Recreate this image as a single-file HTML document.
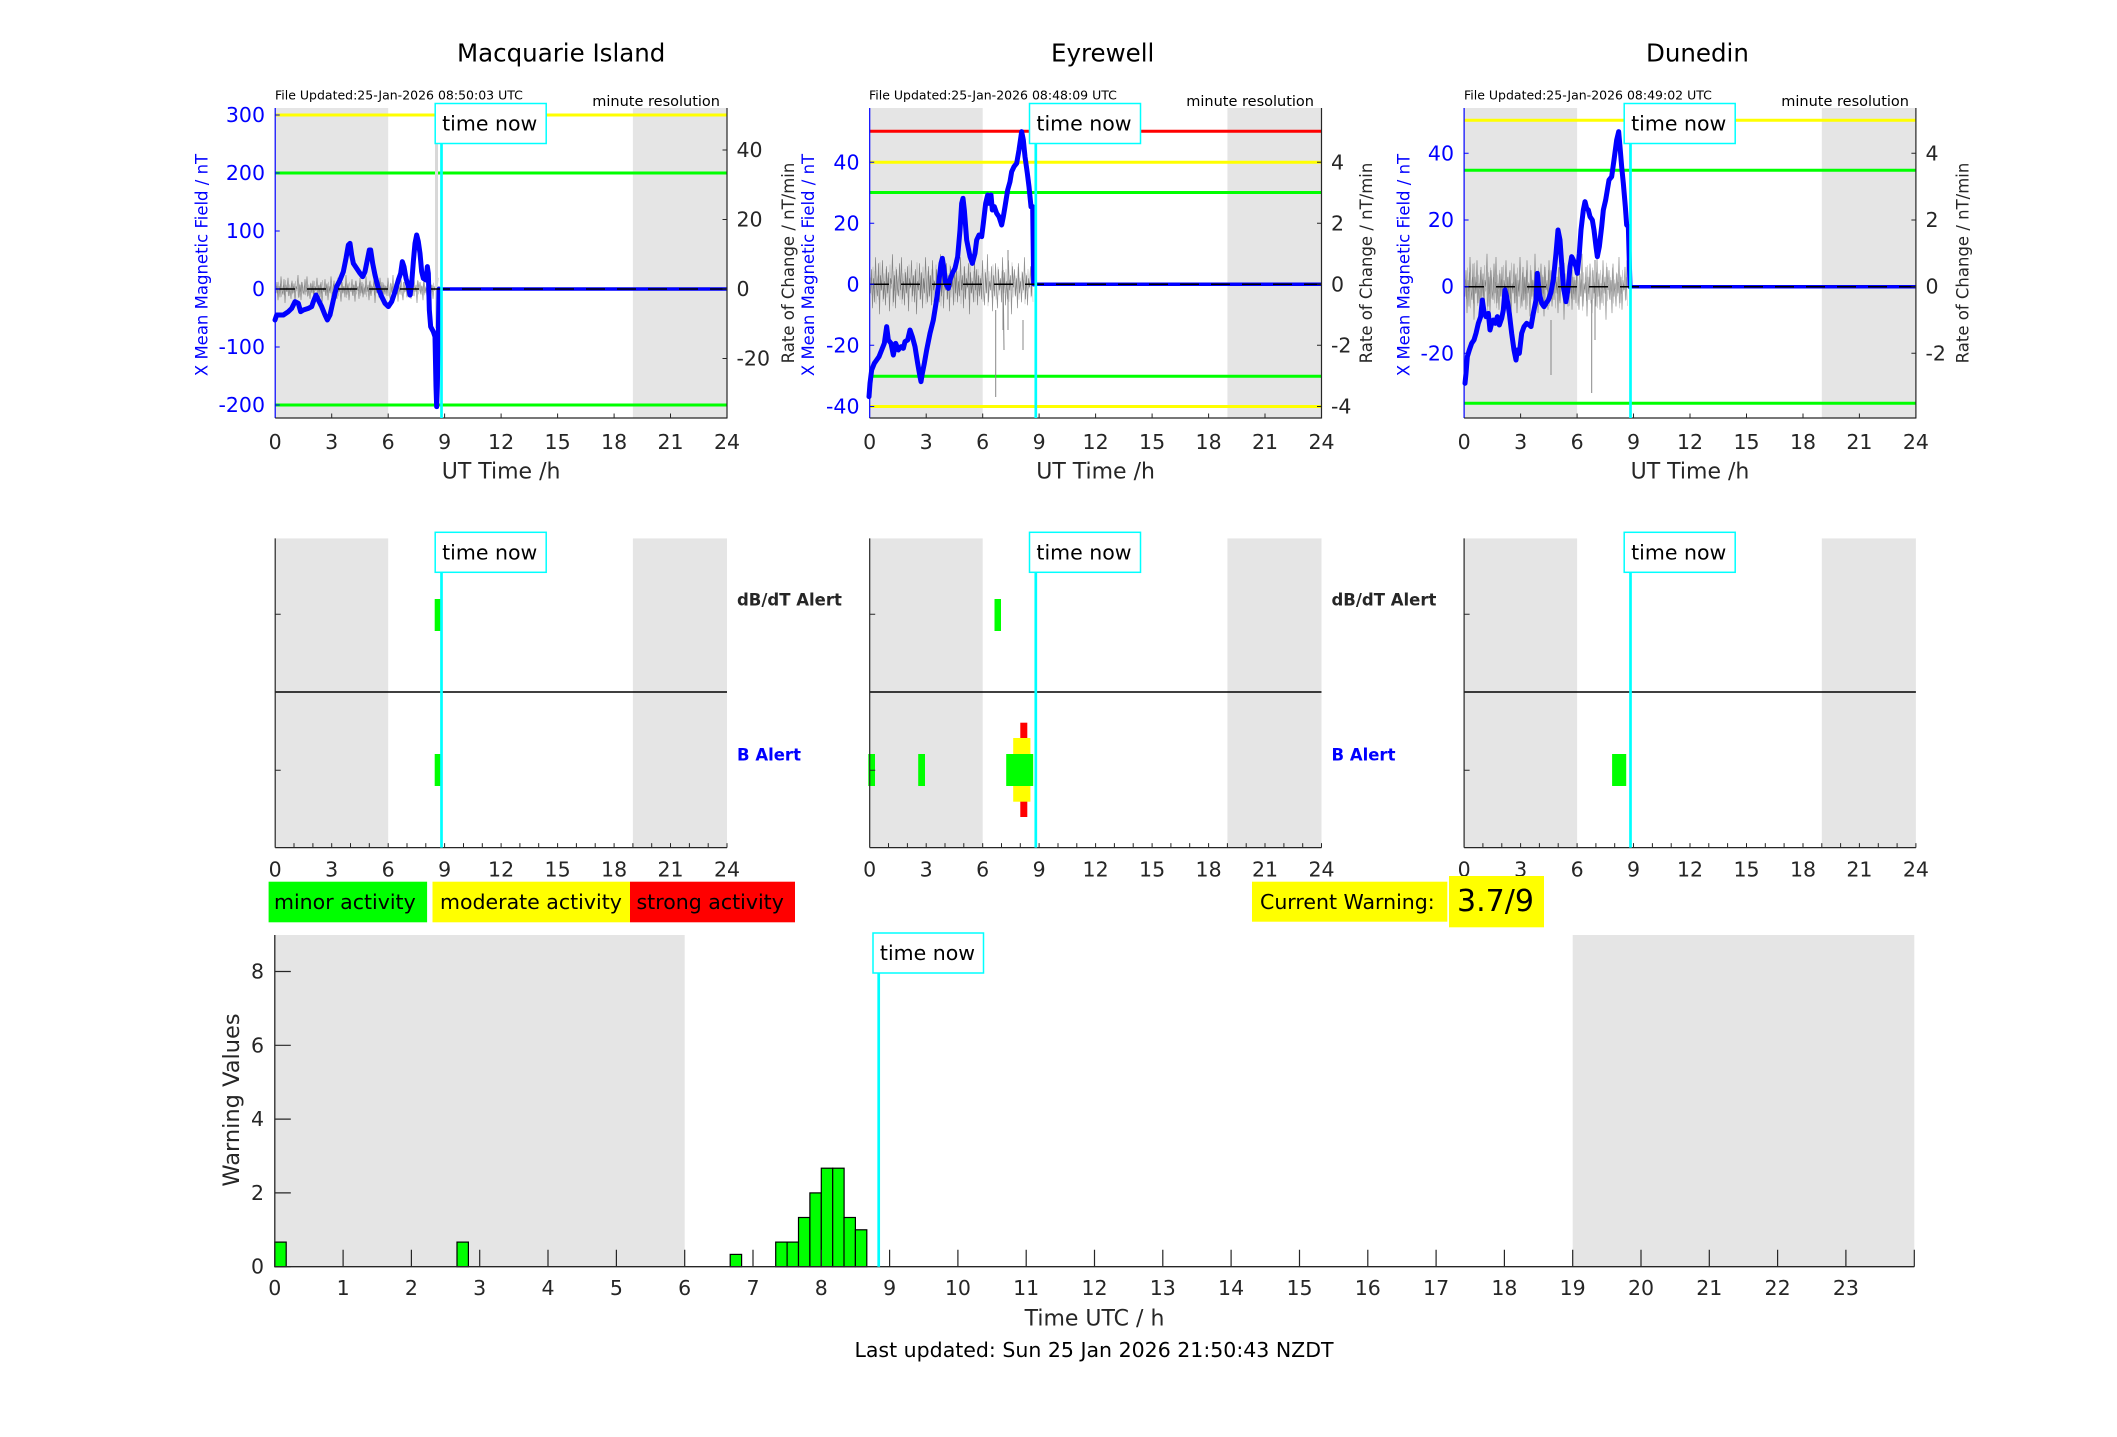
<!DOCTYPE html>
<html><head><meta charset="utf-8"><style>
html,body{margin:0;padding:0;background:#fff;}
svg{display:block;}
text{font-family:"DejaVu Sans","Liberation Sans",sans-serif;}
</style></head><body>
<svg width="2117" height="1437" viewBox="0 0 2117 1437" xmlns="http://www.w3.org/2000/svg">
<defs>
<polyline id="nz" fill="none" stroke="#3a3a3a" stroke-width="0.7" vector-effect="non-scaling-stroke" points="0,3 1,-5 2,8 3,-2 4,6 5,-9 6,1 7,4 8,-7 9,10 10,-3 11,2 12,-8 13,5 14,-1 15,7 16,-6 17,3 18,-4 19,9 20,-2 21,0 22,-10 23,6 24,-3 25,8 26,-5 27,1 28,4 29,-7 30,2 31,-9 32,5 33,-1 34,7 35,-4 36,3 37,-6 38,9 39,-2 40,1 41,-8 42,4 43,-3 44,6 45,-5 46,10 47,-1 48,2 49,-7 50,5 51,-4 52,8 53,-2 54,3 55,-9 56,1 57,6 58,-6 59,4 60,-3 61,7 62,-8 63,2 64,-1 65,9 66,-5 67,3 68,-2 69,6 70,-10 71,4 72,-4 73,8 74,-1 75,2 76,-7 77,5 78,-3 79,9 80,-6 81,1 82,-2 83,7 84,-8 85,3 86,-5 87,6 88,-1 89,4 90,-9 91,2 92,-3 93,8 94,-6 95,5 96,-2 97,1 98,-7 99,10 100,-4 101,3 102,-1 103,6 104,-8 105,2 106,-5 107,7 108,-3 109,4 110,-2 111,5 112,-8 113,1 114,7 115,-4 116,3 117,-10 118,6 119,-1 120,2 121,-6 122,9 123,-3 124,4 125,-7 126,1 127,8 128,-5 129,2 130,-2 131,6 132,-9 133,3 134,-4 135,7 136,-1 137,5 138,-8 139,2 140,-3 141,10 142,-6 143,1 144,-5 145,4 146,-2 147,8 148,-7 149,3 150,-1 151,6 152,-4 153,2 154,-9 155,5 156,-3 157,7 158,-2 159,1 160,-6 161,4 162,-8"/>
</defs>

<!-- Titles -->
<text x="457" y="53" font-size="24.5" dominant-baseline="central" fill="#000">Macquarie Island</text>
<text x="1051" y="53" font-size="24.5" dominant-baseline="central" fill="#000">Eyrewell</text>
<text x="1646" y="53" font-size="24.5" dominant-baseline="central" fill="#000">Dunedin</text>

<g font-size="12.5" fill="#000" dominant-baseline="central">
<text x="275" y="95">File Updated:25-Jan-2026 08:50:03 UTC</text>
<text x="869" y="95">File Updated:25-Jan-2026 08:48:09 UTC</text>
<text x="1464" y="95">File Updated:25-Jan-2026 08:49:02 UTC</text>
</g>
<g font-size="14.5" fill="#000" dominant-baseline="central" text-anchor="end">
<text x="720" y="102">minute resolution</text>
<text x="1314" y="102">minute resolution</text>
<text x="1909" y="102">minute resolution</text>
</g>

<g fill="#e5e5e5">
<rect x="275.2" y="108" width="113" height="310"/><rect x="632.9" y="108" width="94.1" height="310"/>
<rect x="869.7" y="108" width="113" height="310"/><rect x="1227.4" y="108" width="94.1" height="310"/>
<rect x="1464.1" y="108" width="113" height="310"/><rect x="1821.8" y="108" width="94.1" height="310"/>
</g>

<g stroke-width="3">
<line x1="275.2" x2="727" y1="115" y2="115" stroke="#ffff00"/>
<line x1="275.2" x2="727" y1="173" y2="173" stroke="#00ff00"/>
<line x1="275.2" x2="727" y1="405" y2="405" stroke="#00ff00"/>
<line x1="869.7" x2="1321.5" y1="131.3" y2="131.3" stroke="#ff0000"/>
<line x1="869.7" x2="1321.5" y1="162.3" y2="162.3" stroke="#ffff00"/>
<line x1="869.7" x2="1321.5" y1="192.5" y2="192.5" stroke="#00ff00"/>
<line x1="869.7" x2="1321.5" y1="376.3" y2="376.3" stroke="#00ff00"/>
<line x1="869.7" x2="1321.5" y1="406.5" y2="406.5" stroke="#ffff00"/>
<line x1="1464.1" x2="1915.9" y1="120.3" y2="120.3" stroke="#ffff00"/>
<line x1="1464.1" x2="1915.9" y1="170.3" y2="170.3" stroke="#00ff00"/>
<line x1="1464.1" x2="1915.9" y1="403.3" y2="403.3" stroke="#00ff00"/>
</g>

<g opacity="0.55">
<use href="#nz" transform="translate(276,289) scale(1,1.4)"/>
<use href="#nz" transform="translate(870.5,284.3) scale(1,3.0)"/>
<use href="#nz" transform="translate(1465,286.7) scale(1,3.3)"/>
</g>
<g opacity="0.25">
<use href="#nz" transform="translate(276.5,289) scale(1,-0.9)"/>
<use href="#nz" transform="translate(871,284.3) scale(1,-2.2)"/>
<use href="#nz" transform="translate(1465.5,286.7) scale(1,-2.4)"/>
</g>
<g stroke="#888" stroke-width="1" fill="none">
<rect x="435" y="108" width="3" height="220" fill="#d8d8d8" stroke="none"/>
<polyline points="995.7,310 995.7,397"/>
<polyline points="1008,250 1008,330"/>
<polyline points="1003,330 1003,270 1004,350"/>
<polyline points="1591.7,300 1591.7,393"/>
<polyline points="1595,260 1595,340"/>
<polyline points="1551,320 1551,375"/>
<polyline points="1023,320 1023,350"/>
</g>

<g fill="none" stroke="#0000ff" stroke-linejoin="round" stroke-linecap="round">
<polyline transform="translate(270,200) scale(0.333333)" vector-effect="non-scaling-stroke" stroke-width="5" points="15,360 20,345 40,345 55,335 65,325 75,305 85,310 92,335 100,330 115,325 125,320 130,305 138,285 145,300 155,320 165,345 172,360 180,345 190,300 200,260 210,240 220,215 228,175 235,135 240,130 245,165 250,190 260,205 270,220 278,230 285,215 292,180 298,150 302,150 308,190 315,225 325,265 335,290 345,310 355,320 365,305 375,275 385,240 392,220 397,185 402,200 408,235 415,260 420,285 425,250 430,185 435,130 440,105 445,125 450,160 455,215 460,235 468,240 472,200 475,220 478,330 482,380 490,395 495,410 498,560 500,620 502,560 505,400 507,267"/>
<polyline transform="translate(865,110) scale(0.333333)" vector-effect="non-scaling-stroke" stroke-width="5" points="12,860 15,820 20,780 28,760 35,750 42,740 50,720 58,700 65,650 70,690 78,700 85,735 92,700 100,720 108,710 115,715 120,695 128,690 135,660 142,680 150,710 158,760 165,800 168,815 172,790 178,760 185,720 195,670 205,630 213,580 220,530 228,460 232,445 236,470 242,520 250,535 255,510 262,490 270,475 278,440 285,360 290,280 294,265 298,300 305,390 315,440 322,460 330,430 335,390 342,375 350,380 355,340 362,280 368,255 372,280 378,255 382,300 388,290 395,310 402,320 410,345 415,320 420,290 428,240 435,215 440,185 447,170 455,160 462,120 470,65 475,90 480,140 487,190 492,230 498,290 503,290 506,522"/>
<polyline transform="translate(1460,120) scale(0.333333)" vector-effect="non-scaling-stroke" stroke-width="5" points="15,790 18,760 22,710 28,690 35,670 42,660 48,640 55,610 62,590 67,540 72,575 78,590 85,580 90,630 95,610 100,600 106,610 112,590 118,615 125,595 130,570 135,510 140,530 148,580 155,640 162,690 168,720 172,690 178,700 185,640 192,620 200,610 208,615 213,620 220,580 228,540 232,460 238,520 245,550 252,560 258,550 265,540 272,520 280,480 288,400 294,330 300,360 305,430 310,500 318,545 325,500 330,440 335,410 340,420 348,440 352,460 358,400 363,330 370,270 375,245 380,265 385,270 390,290 397,300 402,330 408,380 412,410 418,380 425,320 430,270 437,240 442,210 447,180 455,170 462,120 470,60 476,35 480,80 485,140 490,190 496,260 500,315 505,320 510,500"/>
</g>
<g stroke="#0000ff" stroke-width="3.5">
<line x1="439" x2="727" y1="289" y2="289"/>
<line x1="1033.5" x2="1321.5" y1="284.3" y2="284.3"/>
<line x1="1630" x2="1915.9" y1="286.7" y2="286.7"/>
</g>
<g stroke="#000" stroke-width="1.5" stroke-dasharray="19 12">
<line x1="276" x2="727" y1="289" y2="289"/>
<line x1="870" x2="1321.5" y1="284.3" y2="284.3"/>
<line x1="1465" x2="1915.9" y1="286.7" y2="286.7"/>
</g>

<g stroke-width="1.2">
<line x1="275.2" x2="275.2" y1="108" y2="418" stroke="#0000ff"/>
<line x1="869.7" x2="869.7" y1="108" y2="418" stroke="#0000ff"/>
<line x1="1464.1" x2="1464.1" y1="108" y2="418" stroke="#0000ff"/>
<line x1="727" x2="727" y1="108" y2="418.5" stroke="#262626"/>
<line x1="1321.5" x2="1321.5" y1="108" y2="418.5" stroke="#262626"/>
<line x1="1915.9" x2="1915.9" y1="108" y2="418.5" stroke="#262626"/>
<line x1="275.2" x2="727" y1="418" y2="418" stroke="#262626"/>
<line x1="869.7" x2="1321.5" y1="418" y2="418" stroke="#262626"/>
<line x1="1464.1" x2="1915.9" y1="418" y2="418" stroke="#262626"/>
</g>
<g stroke="#262626" stroke-width="1">
<path d="M331.7 418v-4.5M388.2 418v-4.5M444.6 418v-4.5M501.1 418v-4.5M557.6 418v-4.5M614.1 418v-4.5M670.5 418v-4.5"/>
<path d="M926.2 418v-4.5M982.7 418v-4.5M1039.1 418v-4.5M1095.6 418v-4.5M1152.1 418v-4.5M1208.6 418v-4.5M1265 418v-4.5"/>
<path d="M1520.6 418v-4.5M1577.1 418v-4.5M1633.5 418v-4.5M1690 418v-4.5M1746.5 418v-4.5M1803 418v-4.5M1859.4 418v-4.5"/>
<path d="M727 150h-4.5M727 219.5h-4.5M727 289h-4.5M727 358.5h-4.5"/>
<path d="M1321.5 162.3h-4.5M1321.5 223.3h-4.5M1321.5 284.3h-4.5M1321.5 345.3h-4.5M1321.5 406.5h-4.5"/>
<path d="M1915.9 153.3h-4.5M1915.9 220h-4.5M1915.9 286.7h-4.5M1915.9 353.3h-4.5"/>
</g>
<g stroke="#0000ff" stroke-width="1">
<path d="M275.2 115h4.5M275.2 173h4.5M275.2 231h4.5M275.2 289h4.5M275.2 347h4.5M275.2 405h4.5"/>
<path d="M869.7 162.3h4.5M869.7 223.3h4.5M869.7 284.3h4.5M869.7 345.3h4.5M869.7 406.5h4.5"/>
<path d="M1464.1 153.3h4.5M1464.1 220h4.5M1464.1 286.7h4.5M1464.1 353.3h4.5"/>
</g>

<g font-size="20.5" fill="#0000ff" text-anchor="end" dominant-baseline="central">
<text x="265" y="115">300</text><text x="265" y="173">200</text><text x="265" y="231">100</text><text x="265" y="289">0</text><text x="265" y="347">-100</text><text x="265" y="405">-200</text>
<text x="859.5" y="162.3">40</text><text x="859.5" y="223.3">20</text><text x="859.5" y="284.3">0</text><text x="859.5" y="345.3">-20</text><text x="859.5" y="406.5">-40</text>
<text x="1454" y="153.3">40</text><text x="1454" y="220">20</text><text x="1454" y="286.7">0</text><text x="1454" y="353.3">-20</text>
</g>
<g font-size="20.5" fill="#262626" dominant-baseline="central">
<text x="736.5" y="150">40</text><text x="736.5" y="219.5">20</text><text x="736.5" y="289">0</text><text x="736.5" y="358.5">-20</text>
<text x="1331" y="162.3">4</text><text x="1331" y="223.3">2</text><text x="1331" y="284.3">0</text><text x="1331" y="345.3">-2</text><text x="1331" y="406.5">-4</text>
<text x="1925.5" y="153.3">4</text><text x="1925.5" y="220">2</text><text x="1925.5" y="286.7">0</text><text x="1925.5" y="353.3">-2</text>
</g>
<g font-size="20.5" fill="#262626" text-anchor="middle" dominant-baseline="central">
<text x="275.2" y="442">0</text><text x="331.7" y="442">3</text><text x="388.2" y="442">6</text><text x="444.6" y="442">9</text><text x="501.1" y="442">12</text><text x="557.6" y="442">15</text><text x="614.1" y="442">18</text><text x="670.5" y="442">21</text><text x="727" y="442">24</text>
<text x="869.7" y="442">0</text><text x="926.2" y="442">3</text><text x="982.7" y="442">6</text><text x="1039.1" y="442">9</text><text x="1095.6" y="442">12</text><text x="1152.1" y="442">15</text><text x="1208.6" y="442">18</text><text x="1265" y="442">21</text><text x="1321.5" y="442">24</text>
<text x="1464.1" y="442">0</text><text x="1520.6" y="442">3</text><text x="1577.1" y="442">6</text><text x="1633.5" y="442">9</text><text x="1690" y="442">12</text><text x="1746.5" y="442">15</text><text x="1803" y="442">18</text><text x="1859.4" y="442">21</text><text x="1915.9" y="442">24</text>
</g>
<g font-size="22" fill="#262626" text-anchor="middle" dominant-baseline="central">
<text x="501.1" y="472">UT Time /h</text>
<text x="1095.6" y="472">UT Time /h</text>
<text x="1690" y="472">UT Time /h</text>
</g>
<g font-size="16.5" text-anchor="middle" dominant-baseline="central">
<text transform="translate(201.8,265) rotate(-90)" fill="#0000ff">X Mean Magnetic Field / nT</text>
<text transform="translate(808.7,265) rotate(-90)" fill="#0000ff">X Mean Magnetic Field / nT</text>
<text transform="translate(1404.1,265) rotate(-90)" fill="#0000ff">X Mean Magnetic Field / nT</text>
<text transform="translate(788.4,263) rotate(-90)" fill="#262626">Rate of Change / nT/min</text>
<text transform="translate(1366.5,263) rotate(-90)" fill="#262626">Rate of Change / nT/min</text>
<text transform="translate(1963,263) rotate(-90)" fill="#262626">Rate of Change / nT/min</text>
</g>

<!-- MIDDLE ROW -->
<g fill="#e5e5e5">
<rect x="275.2" y="538.4" width="113" height="309.2"/><rect x="632.9" y="538.4" width="94.1" height="309.2"/>
<rect x="869.7" y="538.4" width="113" height="309.2"/><rect x="1227.4" y="538.4" width="94.1" height="309.2"/>
<rect x="1464.1" y="538.4" width="113" height="309.2"/><rect x="1821.8" y="538.4" width="94.1" height="309.2"/>
</g>
<g fill="#00ff00">
<rect x="434.7" y="599" width="6.5" height="32"/>
<rect x="434.7" y="754" width="6.5" height="32"/>
<rect x="994.5" y="599" width="6.5" height="32"/>
<rect x="868.3" y="754" width="6.7" height="32"/>
<rect x="918.2" y="754" width="6.8" height="32"/>
<rect x="1612.1" y="754" width="14.1" height="32"/>
</g>
<rect x="1020.3" y="722.7" width="7" height="94.3" fill="#ff0000"/>
<rect x="1013.2" y="738" width="17.2" height="63.7" fill="#ffff00"/>
<rect x="1006.2" y="754" width="27" height="32" fill="#00ff00"/>

<g stroke="#000" stroke-width="1.5">
<line x1="275.2" x2="727" y1="692" y2="692"/>
<line x1="869.7" x2="1321.5" y1="692" y2="692"/>
<line x1="1464.1" x2="1915.9" y1="692" y2="692"/>
</g>
<g stroke="#262626" stroke-width="1.2">
<line x1="275.2" x2="275.2" y1="538.4" y2="847.6"/>
<line x1="869.7" x2="869.7" y1="538.4" y2="847.6"/>
<line x1="1464.1" x2="1464.1" y1="538.4" y2="847.6"/>
<line x1="275.2" x2="727" y1="847.6" y2="847.6"/>
<line x1="869.7" x2="1321.5" y1="847.6" y2="847.6"/>
<line x1="1464.1" x2="1915.9" y1="847.6" y2="847.6"/>
</g>
<g stroke="#262626" stroke-width="1">
<path d="M275.2 614.3h5.5M275.2 770.3h5.5M869.7 614.3h5.5M869.7 770.3h5.5M1464.1 614.3h5.5M1464.1 770.3h5.5"/>
<path d="M294 847.6v-4.5M312.9 847.6v-4.5M331.7 847.6v-4.5M350.5 847.6v-4.5M369.3 847.6v-4.5M388.2 847.6v-4.5M407 847.6v-4.5M425.8 847.6v-4.5M444.6 847.6v-4.5M463.5 847.6v-4.5M482.3 847.6v-4.5M501.1 847.6v-4.5M519.9 847.6v-4.5M538.7 847.6v-4.5M557.6 847.6v-4.5M576.4 847.6v-4.5M595.2 847.6v-4.5M614.1 847.6v-4.5M632.9 847.6v-4.5M651.7 847.6v-4.5M670.5 847.6v-4.5M689.4 847.6v-4.5M708.2 847.6v-4.5M727 847.6v-4.5"/>
<path transform="translate(594.5,0)" d="M294 847.6v-4.5M312.9 847.6v-4.5M331.7 847.6v-4.5M350.5 847.6v-4.5M369.3 847.6v-4.5M388.2 847.6v-4.5M407 847.6v-4.5M425.8 847.6v-4.5M444.6 847.6v-4.5M463.5 847.6v-4.5M482.3 847.6v-4.5M501.1 847.6v-4.5M519.9 847.6v-4.5M538.7 847.6v-4.5M557.6 847.6v-4.5M576.4 847.6v-4.5M595.2 847.6v-4.5M614.1 847.6v-4.5M632.9 847.6v-4.5M651.7 847.6v-4.5M670.5 847.6v-4.5M689.4 847.6v-4.5M708.2 847.6v-4.5M727 847.6v-4.5"/>
<path transform="translate(1188.9,0)" d="M294 847.6v-4.5M312.9 847.6v-4.5M331.7 847.6v-4.5M350.5 847.6v-4.5M369.3 847.6v-4.5M388.2 847.6v-4.5M407 847.6v-4.5M425.8 847.6v-4.5M444.6 847.6v-4.5M463.5 847.6v-4.5M482.3 847.6v-4.5M501.1 847.6v-4.5M519.9 847.6v-4.5M538.7 847.6v-4.5M557.6 847.6v-4.5M576.4 847.6v-4.5M595.2 847.6v-4.5M614.1 847.6v-4.5M632.9 847.6v-4.5M651.7 847.6v-4.5M670.5 847.6v-4.5M689.4 847.6v-4.5M708.2 847.6v-4.5M727 847.6v-4.5"/>
</g>
<g font-size="20.5" fill="#262626" text-anchor="middle" dominant-baseline="central">
<text x="275.2" y="869.5">0</text><text x="331.7" y="869.5">3</text><text x="388.2" y="869.5">6</text><text x="444.6" y="869.5">9</text><text x="501.1" y="869.5">12</text><text x="557.6" y="869.5">15</text><text x="614.1" y="869.5">18</text><text x="670.5" y="869.5">21</text><text x="727" y="869.5">24</text>
<text x="869.7" y="869.5">0</text><text x="926.2" y="869.5">3</text><text x="982.7" y="869.5">6</text><text x="1039.1" y="869.5">9</text><text x="1095.6" y="869.5">12</text><text x="1152.1" y="869.5">15</text><text x="1208.6" y="869.5">18</text><text x="1265" y="869.5">21</text><text x="1321.5" y="869.5">24</text>
<text x="1464.1" y="869.5">0</text><text x="1520.6" y="869.5">3</text><text x="1577.1" y="869.5">6</text><text x="1633.5" y="869.5">9</text><text x="1690" y="869.5">12</text><text x="1746.5" y="869.5">15</text><text x="1803" y="869.5">18</text><text x="1859.4" y="869.5">21</text><text x="1915.9" y="869.5">24</text>
</g>
<g font-size="16.5" font-weight="bold" dominant-baseline="central">
<text x="737" y="600" fill="#262626">dB/dT Alert</text>
<text x="737" y="755" fill="#0000ff">B Alert</text>
<text x="1331.5" y="600" fill="#262626">dB/dT Alert</text>
<text x="1331.5" y="755" fill="#0000ff">B Alert</text>
</g>

<rect x="268.6" y="881.7" width="158.5" height="40.6" fill="#00ff00"/>
<rect x="432.5" y="881.7" width="197.5" height="40.6" fill="#ffff00"/>
<rect x="630" y="881.7" width="165" height="40.6" fill="#ff0000"/>
<g font-size="20.5" fill="#000" dominant-baseline="central">
<text x="274" y="902">minor activity</text>
<text x="440" y="902">moderate activity</text>
<text x="636.5" y="902">strong activity</text>
</g>
<rect x="1252" y="881.7" width="195.3" height="40" fill="#ffff00"/>
<rect x="1449" y="876" width="95" height="51.3" fill="#ffff00"/>
<text x="1260" y="902" font-size="20.5" fill="#000" dominant-baseline="central">Current Warning:</text>
<text x="1457" y="901.5" font-size="30" fill="#000" dominant-baseline="central">3.7/9</text>

<!-- BOTTOM PLOT -->
<rect x="274.8" y="935" width="409.9" height="331.7" fill="#e5e5e5"/>
<rect x="1572.7" y="935" width="341.6" height="331.7" fill="#e5e5e5"/>
<g fill="#00ff00" stroke="#000" stroke-width="1.2">
<rect x="274.8" y="1242.1" width="11.4" height="24.6"/>
<rect x="457" y="1242.1" width="11.4" height="24.6"/>
<rect x="730.2" y="1254.4" width="11.4" height="12.3"/>
<rect x="775.7" y="1242.1" width="11.4" height="24.6"/>
<rect x="787.1" y="1242.1" width="11.4" height="24.6"/>
<rect x="798.5" y="1217.5" width="11.4" height="49.2"/>
<rect x="809.9" y="1192.9" width="11.4" height="73.8"/>
<rect x="821.3" y="1168.2" width="11.4" height="98.5"/>
<rect x="832.7" y="1168.2" width="11.4" height="98.5"/>
<rect x="844" y="1217.5" width="11.4" height="49.2"/>
<rect x="855.4" y="1229.8" width="11.4" height="36.9"/>
</g>
<g stroke="#262626" stroke-width="1.3">
<line x1="274.8" x2="274.8" y1="935" y2="1266.7"/>
<line x1="274.8" x2="1914.3" y1="1266.7" y2="1266.7"/>
</g>
<g stroke="#262626" stroke-width="1.2">
<path d="M274.8 1266.7h16M274.8 1192.9h16M274.8 1119.1h16M274.8 1045.3h16M274.8 971.5h16"/>
<path d="M343.1 1266.7v-17M411.4 1266.7v-17M479.7 1266.7v-17M548 1266.7v-17M616.4 1266.7v-17M684.7 1266.7v-17M753 1266.7v-17M821.3 1266.7v-17M889.6 1266.7v-17M957.9 1266.7v-17M1026.2 1266.7v-17M1094.5 1266.7v-17M1162.8 1266.7v-17M1231.1 1266.7v-17M1299.5 1266.7v-17M1367.8 1266.7v-17M1436.1 1266.7v-17M1504.4 1266.7v-17M1572.7 1266.7v-17M1641 1266.7v-17M1709.3 1266.7v-17M1777.6 1266.7v-17M1845.9 1266.7v-17M1914.3 1266.7v-17"/>
</g>
<g font-size="20.5" fill="#262626" text-anchor="end" dominant-baseline="central">
<text x="264" y="1266.7">0</text><text x="264" y="1192.9">2</text><text x="264" y="1119.1">4</text><text x="264" y="1045.3">6</text><text x="264" y="971.5">8</text>
</g>
<g font-size="20.5" fill="#262626" text-anchor="middle" dominant-baseline="central">
<text x="274.8" y="1288">0</text><text x="343.1" y="1288">1</text><text x="411.4" y="1288">2</text><text x="479.7" y="1288">3</text><text x="548" y="1288">4</text><text x="616.4" y="1288">5</text><text x="684.7" y="1288">6</text><text x="753" y="1288">7</text><text x="821.3" y="1288">8</text><text x="889.6" y="1288">9</text><text x="957.9" y="1288">10</text><text x="1026.2" y="1288">11</text><text x="1094.5" y="1288">12</text><text x="1162.8" y="1288">13</text><text x="1231.1" y="1288">14</text><text x="1299.5" y="1288">15</text><text x="1367.8" y="1288">16</text><text x="1436.1" y="1288">17</text><text x="1504.4" y="1288">18</text><text x="1572.7" y="1288">19</text><text x="1641" y="1288">20</text><text x="1709.3" y="1288">21</text><text x="1777.6" y="1288">22</text><text x="1845.9" y="1288">23</text>
</g>
<text x="1094.5" y="1319" font-size="22" fill="#262626" text-anchor="middle" dominant-baseline="central">Time UTC / h</text>
<text x="1094" y="1350" font-size="20.5" fill="#000" text-anchor="middle" dominant-baseline="central">Last updated: Sun 25 Jan 2026 21:50:43 NZDT</text>
<text transform="translate(232,1100) rotate(-90)" font-size="22.5" fill="#262626" text-anchor="middle" dominant-baseline="central">Warning Values</text>

<!-- TIME NOW -->
<g stroke="#00ffff" stroke-width="2.7">
<line x1="441.5" x2="441.5" y1="108" y2="418"/>
<line x1="1035.8" x2="1035.8" y1="108" y2="418"/>
<line x1="1630.5" x2="1630.5" y1="108" y2="418"/>
<line x1="441.5" x2="441.5" y1="538.4" y2="847.6"/>
<line x1="1035.8" x2="1035.8" y1="538.4" y2="847.6"/>
<line x1="1630.5" x2="1630.5" y1="538.4" y2="847.6"/>
<line x1="878.7" x2="878.7" y1="935" y2="1266.7"/>
</g>
<g fill="#fff" stroke="#00ffff" stroke-width="1.5">
<rect x="435.2" y="103.5" width="111" height="40"/>
<rect x="1029.5" y="103.5" width="111" height="40"/>
<rect x="1624.2" y="103.5" width="111" height="40"/>
<rect x="435.2" y="532.3" width="111" height="40"/>
<rect x="1029.5" y="532.3" width="111" height="40"/>
<rect x="1624.2" y="532.3" width="111" height="40"/>
<rect x="873" y="933" width="110.5" height="40"/>
</g>
<g font-size="20.5" fill="#000" text-anchor="middle" dominant-baseline="central">
<text x="489.7" y="123.5">time now</text>
<text x="1084" y="123.5">time now</text>
<text x="1678.7" y="123.5">time now</text>
<text x="489.7" y="552.5">time now</text>
<text x="1084" y="552.5">time now</text>
<text x="1678.7" y="552.5">time now</text>
<text x="927.5" y="953">time now</text>
</g>
</svg>
</body></html>
